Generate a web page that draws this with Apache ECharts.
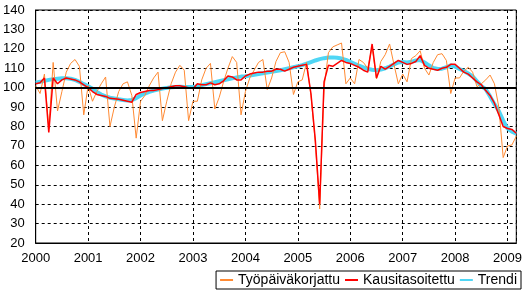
<!DOCTYPE html>
<html>
<head>
<meta charset="utf-8">
<script src="https://cdn.jsdelivr.net/npm/echarts@6/dist/echarts.min.js"></script>
<style>
  html, body { margin: 0; padding: 0; background: #fff; }
  #chart { width: 525px; height: 292px; }
</style>
</head>
<body>
<div id="chart"></div>
<script>
// kuukausittain 1/2000 - 3/2009
const yearLabels = ['2000', '2001', '2002', '2003', '2004', '2005', '2006', '2007', '2008', '2009'];

const tyopaiva = [
  101, 97, 107, 79, 113, 88, 98, 108, 112.5, 114.5, 111, 86,
  101, 93, 98, 102, 105.5, 80, 90, 98, 102, 103, 96, 74,
  93, 96, 101, 105, 108, 83, 93, 102, 108, 111.5, 109, 83,
  93, 93, 104, 110, 112.5, 89, 95, 103, 110, 116, 113, 86,
  98, 105, 109, 113, 114.5, 99, 105, 113.5, 118, 118.5, 113, 96.5,
  103, 104, 113, 96, 72, 37.5, 100, 118, 121, 122, 123, 102,
  105, 102, 114.5, 113, 110, 121, 104.5, 113.5, 117, 122.5, 112, 102,
  107, 103, 115, 116.5, 119, 110, 106.5, 113, 117, 117.5, 114, 97,
  105, 105, 108.5, 110.5, 108, 100.5, 102, 104, 106.5, 102, 90, 64,
  70, 70.5, 75
];

const kausi = [
  102, 102.5, 105, 77, 105, 102, 104, 105, 104.5, 104, 103, 101.5,
  100, 98, 96.5, 96, 95.5, 94.5, 94.3, 94, 93.5, 93, 92.5, 96.5,
  97.5, 98, 98.5, 98.5, 99, 99.5, 100, 100.5, 101, 101, 100.5, 100,
  99.5, 102, 101.5, 101.5, 102.5, 101.5, 102, 103.5, 106, 105.5, 104, 104,
  106, 107, 107.5, 108, 108, 108.5, 108.5, 109.5, 109.5, 108.5, 109.5, 110.5,
  111, 111.5, 112, 97, 73, 40, 103, 111.5, 111, 112.5, 114, 113,
  112.5, 111.5, 110.5, 109, 108, 122.5, 105, 111, 109.5, 111, 112.5, 114,
  113, 112, 112.5, 113.5, 116.5, 111.5, 110, 109.5, 109, 110, 110.5, 112,
  112, 110, 108, 107, 105, 103, 101.5, 98.5, 96, 92, 86, 80,
  79, 78.5, 76.5
];

const trendi = [
  102.6, 103, 103.5, 104, 104.4, 104.6, 104.8, 104.8, 104.6, 104, 103, 101.8,
  100.8, 99.5, 97.8, 96.5, 95.5, 94.8, 94.4, 94, 93.7, 93.4, 93.6, 94.6,
  96, 97, 97.8, 98.5, 99, 99.5, 99.9, 100.2, 100.4, 100.5, 100.4, 100.3,
  100.3, 100.8, 101.3, 101.8, 102.3, 102.8, 103.3, 103.8, 104.3, 104.8, 105.3, 105.7,
  105.9, 106.2, 106.6, 107, 107.4, 107.8, 108.2, 108.6, 109, 109.5, 110, 110.5,
  111, 111.6, 112.4, 113.2, 114, 114.7, 115.2, 115.5, 115.6, 115.4, 115, 114.3,
  113.3, 112.3, 111.3, 110.5, 109.7, 109.2, 109, 109.3, 110, 110.9, 112, 113,
  113.2, 113, 113.3, 114, 114.2, 113, 111.5, 110.2, 109.6, 109.8, 110.5, 111.5,
  110.8, 109.6, 108.6, 107.3, 105.8, 103.3, 100.8, 99.2, 95.5, 91.5, 88, 83,
  79, 77.3, 76.3
];

const font = "'Liberation Sans', Arial, sans-serif";
const toPoints = arr => arr.map((v, i) => [i, v]);

const chart = echarts.init(document.getElementById('chart'));
chart.setOption({
  animation: false,
  backgroundColor: '#fff',
  grid: {
    left: 35, top: 10, right: 8, bottom: 49,
    show: true, borderColor: '#000', borderWidth: 1
  },
  legend: {
    data: ['Työpäiväkorjattu', 'Kausitasoitettu', 'Trendi'],
    right: 4, top: 271,
    itemWidth: 13, itemHeight: 8, itemGap: 4,
    padding: [2, 4, 2, 3],
    borderColor: '#000', borderWidth: 1, borderRadius: 0,
    itemStyle: { opacity: 0 },
    textStyle: { fontFamily: font, fontSize: 14, color: '#000' }
  },
  xAxis: {
    type: 'value', min: 0, max: 110, interval: 12,
    axisLine: { show: true, lineStyle: { color: '#000', width: 1 } },
    axisTick: { show: false },
    axisLabel: {
      fontFamily: font, fontSize: 13, color: '#000', margin: 9,
      showMaxLabel: false,
      formatter: v => (v % 12 === 0 ? yearLabels[v / 12] : '')
    },
    splitLine: { show: true, lineStyle: { color: '#000', type: [3, 3], width: 1 } }
  },
  yAxis: {
    type: 'value', min: 20, max: 140, interval: 10,
    axisLine: { show: true, lineStyle: { color: '#000', width: 1 } },
    axisTick: { show: false },
    axisLabel: { fontFamily: font, fontSize: 13, color: '#000', margin: 11 },
    splitLine: { show: true, lineStyle: { color: '#000', type: [3, 3], width: 1 } }
  },
  series: [
    {
      name: 'Trendi', type: 'line', data: toPoints(trendi),
      symbol: 'none', z: 2,
      lineStyle: { color: '#4fd6f5', width: 4 },
      itemStyle: { color: '#4fd6f5' },
      markLine: {
        silent: true, symbol: 'none', label: { show: false },
        lineStyle: { color: '#000', width: 2, type: 'solid' },
        data: [{ yAxis: 100 }]
      }
    },
    {
      name: 'Työpäiväkorjattu', type: 'line', data: toPoints(tyopaiva),
      symbol: 'none', z: 3,
      lineStyle: { color: '#ff8a33', width: 1 },
      itemStyle: { color: '#ff8a33' }
    },
    {
      name: 'Kausitasoitettu', type: 'line', data: toPoints(kausi),
      symbol: 'none', z: 4,
      lineStyle: { color: '#ff0000', width: 1.5 },
      itemStyle: { color: '#ff0000' }
    }
  ]
});
</script>
</body>
</html>
